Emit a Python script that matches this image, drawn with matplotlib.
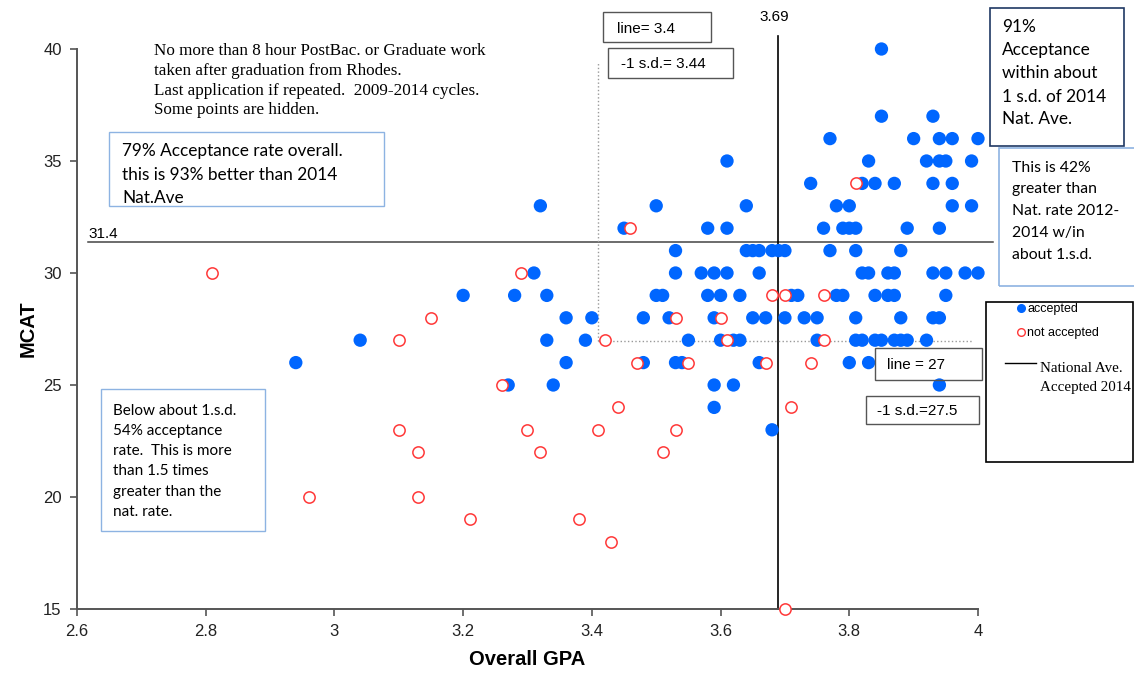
import matplotlib
matplotlib.use("Agg")
import matplotlib.pyplot as plt
from matplotlib.patches import Rectangle
from matplotlib.lines import Line2D

# accepted applicants (GPA, MCAT), listed row by row from MCAT 40 down
acc_gpa = [3.85,
           3.85, 3.93,
           3.77, 3.90, 3.94, 3.96, 4.00,
           3.61, 3.83, 3.92, 3.94, 3.95, 3.99,
           3.74, 3.82, 3.84, 3.87, 3.93, 3.96,
           3.32, 3.50, 3.64, 3.78, 3.80, 3.96, 3.99,
           3.45, 3.58, 3.61, 3.76, 3.79, 3.80, 3.81, 3.89, 3.94,
           3.53, 3.64, 3.65, 3.66, 3.68, 3.69, 3.70, 3.77, 3.81, 3.88,
           3.31, 3.53, 3.57, 3.59, 3.61, 3.66, 3.82, 3.83, 3.86, 3.87, 3.93, 3.95, 3.98, 4.00,
           3.20, 3.28, 3.33, 3.50, 3.51, 3.58, 3.60, 3.63, 3.71, 3.72, 3.78, 3.79, 3.84, 3.86, 3.87, 3.95,
           3.36, 3.40, 3.48, 3.52, 3.59, 3.65, 3.67, 3.70, 3.73, 3.75, 3.81, 3.88, 3.93, 3.94,
           3.04, 3.33, 3.39, 3.55, 3.60, 3.62, 3.63, 3.75, 3.81, 3.82, 3.84, 3.85, 3.87, 3.88, 3.89, 3.92,
           2.94, 3.36, 3.48, 3.53, 3.54, 3.66, 3.80, 3.83,
           3.27, 3.34, 3.59, 3.62, 3.94,
           3.59,
           3.68]
acc_mcat = ([40] + [37] * 2 + [36] * 5 + [35] * 6 + [34] * 6 + [33] * 7 + [32] * 9 +
            [31] * 10 + [30] * 14 + [29] * 16 + [28] * 14 + [27] * 16 + [26] * 8 +
            [25] * 5 + [24] + [23])

# not accepted
rej_gpa = [3.81,
           3.46,
           2.81, 3.29,
           3.68, 3.70, 3.76,
           3.15, 3.53, 3.60,
           3.10, 3.42, 3.61, 3.76,
           3.47, 3.55, 3.67, 3.74,
           3.26,
           3.44, 3.71,
           3.10, 3.30, 3.41, 3.53,
           3.13, 3.32, 3.51,
           2.96, 3.13,
           3.21, 3.38,
           3.43,
           3.70]
rej_mcat = ([34] + [32] + [30] * 2 + [29] * 3 + [28] * 3 + [27] * 4 + [26] * 4 + [25] +
            [24] * 2 + [23] * 4 + [22] * 3 + [20] * 2 + [19] * 2 + [18] + [15])

nat_ave_mcat = 31.4
nat_ave_gpa = 3.69
line_gpa = 3.41
line_mcat = 26.95

x_ticks = [2.6, 2.8, 3.0, 3.2, 3.4, 3.6, 3.8, 4.0]
x_tick_labels = ["2.6", "2.8", "3", "3.2", "3.4", "3.6", "3.8", "4"]
y_ticks = [15, 20, 25, 30, 35, 40]

W, H = 1134, 675
BLUE = "#0066ff"
RED = "#ff3838"
SANS = "Liberation Sans"
SERIF = "Liberation Serif"
CAL = "Lato"


def fx(px):
    return px / W


def fy(py):
    return 1 - py / H


fig = plt.figure(figsize=(W / 100, H / 100), dpi=100)
fig.patch.set_facecolor("white")
ax = fig.add_axes([fx(77), fy(609), (978 - 77) / W, (609 - 49) / H])

ax.scatter(acc_gpa, acc_mcat, s=92, color=BLUE, edgecolors="none", clip_on=False, zorder=3)
ax.scatter(rej_gpa, rej_mcat, s=66, facecolors="white", edgecolors=RED, linewidths=1.1,
           clip_on=False, zorder=4)

ax.plot([2.617, 4.024], [nat_ave_mcat] * 2, color="#444444", lw=1.1, clip_on=False, zorder=2)
ax.plot([nat_ave_gpa] * 2, [15, 40.58], color="black", lw=1.2, clip_on=False, zorder=2)
ax.plot([line_gpa] * 2, [line_mcat, 39.4], color="#999999", lw=1.0, ls=":", zorder=2)
ax.plot([line_gpa, 3.99], [line_mcat] * 2, color="#999999", lw=1.0, ls=":", zorder=2)

ax.set_xlim(2.6, 4.0)
ax.set_ylim(15, 40)
ax.set_xticks(x_ticks)
ax.set_xticklabels(x_tick_labels)
ax.set_yticks(y_ticks)
for s in ["top", "right"]:
    ax.spines[s].set_visible(False)
for s in ["left", "bottom"]:
    ax.spines[s].set_color("#555555")
    ax.spines[s].set_linewidth(1.4)
ax.tick_params(direction="out", length=5, width=1.2, color="#555555", labelsize=12,
               labelcolor="#222222", pad=6)
for lab in ax.get_xticklabels() + ax.get_yticklabels():
    lab.set_family(SANS)
ax.set_xlabel("Overall GPA", fontsize=14.5, fontweight="bold", family=SANS, labelpad=8)
ax.set_ylabel("MCAT", fontsize=14.5, fontweight="bold", family=SANS, labelpad=4)


def box(x0, y0, x1, y1, color, lw=1.0):
    fig.add_artist(Rectangle((fx(x0), fy(y1)), (x1 - x0) / W, (y1 - y0) / H,
                             transform=fig.transFigure, fill=False, edgecolor=color, lw=lw))


def lines(x, ys, texts, size, family, color="black", ha="left"):
    # ys are baselines in pixels from the top
    for y, t in zip(ys, texts):
        fig.text(fx(x), fy(y), t, fontsize=size, family=family, color=color,
                 ha=ha, va="baseline")


# small label boxes
box(603, 12, 711, 42, "#555555")
lines(617, [33], ["line= 3.4"], 11, SANS)
box(608, 48, 733, 78, "#555555")
lines(621, [68], ["-1 s.d.= 3.44"], 11, SANS)
lines(774, [21], ["3.69"], 11, SANS, ha="center")
box(875, 348, 982, 380, "#555555")
lines(887, [369], ["line = 27"], 11, SANS)
box(866, 396, 979, 424, "#555555")
lines(877, [415], ["-1 s.d.=27.5"], 11, SANS)
lines(103, [238], ["31.4"], 11, SANS, ha="center")

# notes
lines(154, [55, 75, 95, 114.5],
      ["No more than 8 hour PostBac. or Graduate work",
       "taken after graduation from Rhodes.",
       "Last application if repeated.  2009-2014 cycles.",
       "Some points are hidden."], 12.3, SERIF)

box(109, 132, 384, 206, "#8db3e2")
lines(122, [156, 180, 203],
      ["79% Acceptance rate overall.", "this is 93% better than 2014", "Nat.Ave"], 12.4, CAL)

box(990, 8, 1124, 146, "#1f3864", lw=1.2)
lines(1002, [32, 55, 78, 101.5, 123.5],
      ["91%", "Acceptance", "within about", "1 s.d. of 2014", "Nat. Ave."], 12.4, CAL)

box(999, 148, 1140, 286, "#8db3e2", lw=1.2)
lines(1012, [172, 193.5, 215, 237, 259],
      ["This is 42%", "greater than", "Nat. rate 2012-", "2014 w/in", "about 1.s.d."], 11.3, CAL)

box(101, 389, 265, 531, "#8db3e2")
lines(113, [415, 435, 455, 475, 496, 516],
      ["Below about 1.s.d.", "54% acceptance", "rate.  This is more",
       "than 1.5 times", "greater than the", "nat. rate."], 11, CAL)

# legend
box(986, 302, 1133, 462, "black", lw=1.2)
fig.add_artist(Line2D([fx(1021)], [fy(308)], marker="o", ms=5.5, color=BLUE, ls="none",
                      transform=fig.transFigure))
fig.add_artist(Line2D([fx(1021)], [fy(332)], marker="o", ms=5.5, mfc="white", mec=RED,
                      mew=1.0, ls="none", transform=fig.transFigure))
fig.add_artist(Line2D([fx(1005), fx(1036)], [fy(363)] * 2, color="black", lw=1.0,
                      transform=fig.transFigure))
lines(1027, [312, 336], ["accepted", "not accepted"], 9, SANS)
lines(1040, [372.5, 391.5], ["National Ave.", "Accepted 2014"], 10.8, SERIF)

fig.savefig("out.png", dpi=100)
